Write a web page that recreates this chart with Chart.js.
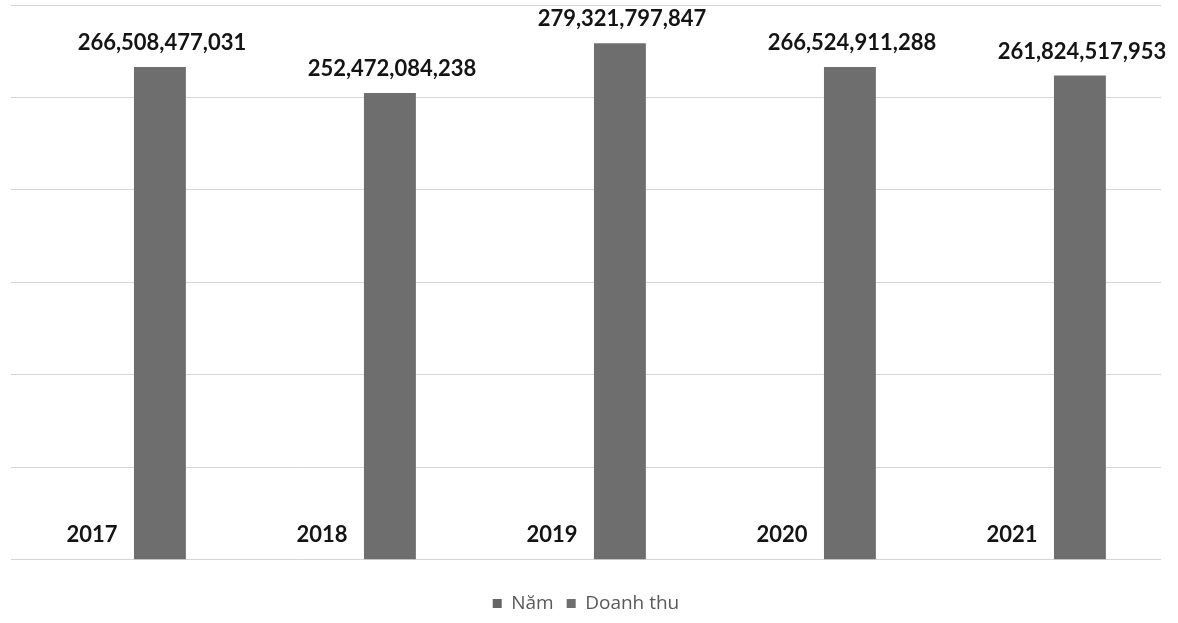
<!DOCTYPE html>
<html lang="vi">
<head>
    <meta charset="UTF-8">
    <title>Doanh thu</title>
    <script src="https://cdn.jsdelivr.net/npm/chart.js"></script>
    <style>
        html, body { margin: 0; padding: 0; background: #ffffff; }
        .chart-container { width: 1178px; height: 623px; position: relative; }
    </style>
</head>
<body>
    <div class="chart-container">
        <canvas id="revenueChart"></canvas>
    </div>
    <script>
        // du lieu doc tu hinh
        const categories = ['2017', '2018', '2019', '2020', '2021'];
        const namValues = [2017, 2018, 2019, 2020, 2021];
        const doanhThu = [266508477031, 252472084238, 279321797847, 266524911288, 261824517953];
        const yTicks = [0, 50e9, 100e9, 150e9, 200e9, 250e9, 300e9];

        const namColor = '#666666';
        const doanhThuColor = '#6e6e6e';

        // ve nhan gia tri tren cot
        const valueLabels = {
            id: 'valueLabels',
            afterDatasetsDraw(chart) {
                const ctx = chart.ctx;
                const base = chart.scales.y.getPixelForValue(0);
                ctx.save();
                ctx.fillStyle = '#141414';
                ctx.font = 'bold 22px Lato';
                ctx.textAlign = 'center';
                ctx.textBaseline = 'middle';
                chart.getDatasetMeta(0).data.forEach((bar, i) => {
                    ctx.fillText(String(namValues[i]), bar.x, base - 25);
                });
                chart.getDatasetMeta(1).data.forEach((bar, i) => {
                    ctx.fillText(doanhThu[i].toLocaleString('en-US'), bar.x + 2, bar.y - 24);
                });
                ctx.restore();
            }
        };

        const config = {
            type: 'bar',
            data: {
                labels: categories,
                datasets: [
                    {
                        label: 'Năm',
                        data: namValues,
                        // cot nam gan nhu bang 0 so voi doanh thu
                        backgroundColor: 'rgba(0,0,0,0)',
                        categoryPercentage: 0.59,
                        barPercentage: 0.765
                    },
                    {
                        label: 'Doanh thu',
                        data: doanhThu,
                        backgroundColor: doanhThuColor,
                        categoryPercentage: 0.59,
                        barPercentage: 0.765
                    }
                ]
            },
            options: {
                responsive: true,
                maintainAspectRatio: false,
                animation: false,
                layout: {
                    padding: { left: 11, right: 17, top: 5, bottom: 0 }
                },
                scales: {
                    x: {
                        display: false
                    },
                    y: {
                        min: 0,
                        max: 300e9,
                        afterBuildTicks: (axis) => {
                            axis.ticks = yTicks.map(v => ({ value: v }));
                        },
                        ticks: { display: false },
                        border: { display: false },
                        grid: {
                            color: '#d6d6d6',
                            lineWidth: 1,
                            drawTicks: false
                        }
                    }
                },
                plugins: {
                    legend: {
                        position: 'bottom',
                        title: {
                            display: true,
                            text: '',
                            font: { size: 1 },
                            padding: { top: 20, bottom: 0 }
                        },
                        labels: {
                            boxWidth: 9,
                            boxHeight: 9,
                            color: '#595959',
                            font: { family: 'Open Sans', size: 19 },
                            padding: 13,
                            generateLabels: (chart) => {
                                const items = Chart.defaults.plugins.legend.labels.generateLabels(chart);
                                items[0].fillStyle = namColor;
                                items[0].strokeStyle = namColor;
                                items[0].lineWidth = 0;
                                items[1].lineWidth = 0;
                                return items;
                            }
                        }
                    },
                    tooltip: { enabled: false }
                }
            },
            plugins: [valueLabels]
        };

        new Chart(document.getElementById('revenueChart'), config);
    </script>
</body>
</html>
